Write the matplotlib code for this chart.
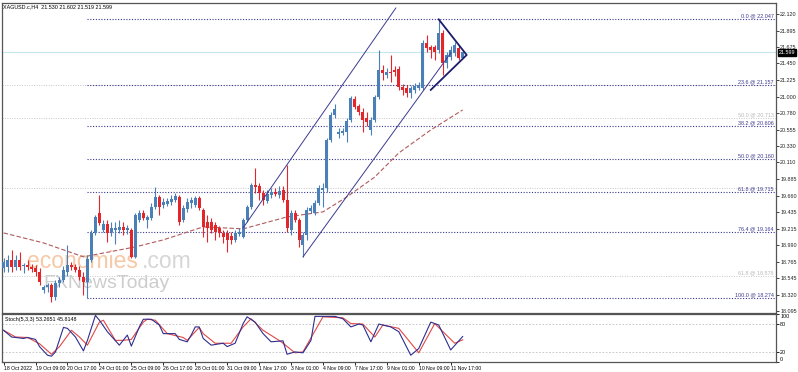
import numpy as np
import matplotlib.pyplot as plt

plt.rcParams['font.family'] = ['Liberation Sans', 'DejaVu Sans']

# XAGUSD.c H4 candles, bar 0 = 18 Oct 2022 01:00
opens = [18.683, 18.696, 18.791, 18.696, 18.791, 18.710, 18.723, 18.696, 18.683, 18.629,
         18.385, 18.426, 18.453, 18.290, 18.480, 18.520, 18.629, 18.723, 18.696, 18.656,
         18.561, 18.493, 18.791, 19.156, 19.427, 19.197, 19.278, 19.170, 19.197, 19.197,
         19.238, 19.197, 19.197, 18.832, 19.332, 19.427, 19.332, 19.359, 19.508, 19.644,
         19.535, 19.549, 19.576, 19.603, 19.644, 19.332, 19.481, 19.562, 19.535, 19.630,
         19.468, 19.305, 19.305, 19.265, 19.224, 19.156, 19.156, 19.116, 19.062, 19.143,
         19.102, 19.332, 19.508, 19.806, 19.792, 19.698, 19.589, 19.671, 19.711, 19.671,
         19.738, 19.603, 19.197, 19.427, 19.332, 18.994, 19.129, 19.454, 19.427, 19.562,
         19.738, 19.765, 20.415, 20.753, 20.496, 20.510, 20.523, 20.686, 20.970, 20.875,
         20.794, 20.713, 20.550, 20.686, 20.997, 21.362, 21.295, 21.335, 21.362, 21.376,
         21.132, 21.119, 21.051, 21.092, 21.119, 21.119, 21.728, 21.673, 21.673, 21.633,
         21.863, 21.457, 21.538, 21.592, 21.660, 21.530]
highs = [18.818, 18.859, 18.926, 18.859, 18.899, 18.750, 18.791, 18.737, 18.723, 18.683,
         18.453, 18.480, 18.480, 18.520, 18.561, 18.710, 18.994, 18.764, 18.737, 18.710,
         18.629, 18.859, 19.197, 19.400, 19.671, 19.332, 19.332, 19.305, 19.305, 19.332,
         19.305, 19.265, 19.224, 19.427, 19.468, 19.468, 19.400, 19.562, 19.779, 19.671,
         19.630, 19.630, 19.671, 19.698, 19.671, 19.535, 19.630, 19.644, 19.657, 19.657,
         19.495, 19.400, 19.359, 19.305, 19.251, 19.197, 19.197, 19.170, 19.197, 19.224,
         19.359, 19.535, 19.833, 20.036, 19.833, 19.738, 19.738, 19.765, 19.765, 19.792,
         19.792, 20.077, 19.468, 19.468, 19.359, 19.170, 19.508, 19.535, 19.603, 19.806,
         19.833, 20.442, 20.794, 20.902, 20.577, 20.577, 20.713, 21.010, 21.010, 20.902,
         20.848, 20.794, 20.726, 21.024, 21.633, 21.430, 21.389, 21.565, 21.416, 21.416,
         21.173, 21.159, 21.146, 21.186, 21.200, 21.768, 21.836, 21.700, 21.700, 22.047,
         21.903, 21.606, 21.687, 21.741, 21.700, 21.602]
lows = [18.629, 18.629, 18.629, 18.656, 18.656, 18.615, 18.656, 18.629, 18.575, 18.453,
        18.345, 18.358, 18.223, 18.250, 18.426, 18.493, 18.575, 18.656, 18.629, 18.520,
        18.317, 18.274, 18.764, 19.129, 19.265, 19.170, 19.035, 19.116, 19.008, 19.156,
        19.129, 19.143, 18.818, 18.818, 19.305, 19.332, 19.224, 19.332, 19.481, 19.400,
        19.495, 19.522, 19.535, 19.576, 19.265, 19.305, 19.441, 19.495, 19.508, 19.468,
        19.102, 19.035, 19.156, 19.062, 19.102, 19.021, 18.899, 19.008, 19.035, 19.116,
        19.089, 19.305, 19.481, 19.698, 19.603, 19.535, 19.562, 19.630, 19.657, 19.630,
        19.576, 19.170, 19.129, 19.305, 18.967, 18.832, 19.062, 19.427, 19.400, 19.535,
        19.508, 19.711, 20.388, 20.713, 20.442, 20.483, 20.388, 20.659, 20.834, 20.753,
        20.523, 20.604, 20.483, 20.659, 20.970, 21.227, 21.254, 21.200, 21.281, 21.092,
        21.024, 20.997, 20.983, 21.051, 21.092, 21.092, 21.606, 21.525, 21.498, 21.592,
        21.295, 21.389, 21.498, 21.552, 21.498, 21.519]
closes = [18.764, 18.791, 18.696, 18.791, 18.696, 18.723, 18.696, 18.669, 18.629, 18.493,
          18.426, 18.453, 18.290, 18.480, 18.520, 18.656, 18.723, 18.696, 18.656, 18.561,
          18.493, 18.805, 19.156, 19.373, 19.292, 19.278, 19.156, 19.224, 19.224, 19.238,
          19.197, 19.224, 18.832, 19.400, 19.427, 19.359, 19.373, 19.508, 19.644, 19.508,
          19.576, 19.589, 19.617, 19.657, 19.305, 19.495, 19.576, 19.603, 19.630, 19.495,
          19.238, 19.224, 19.197, 19.170, 19.156, 19.102, 19.062, 19.062, 19.156, 19.170,
          19.332, 19.508, 19.806, 19.779, 19.698, 19.603, 19.684, 19.711, 19.684, 19.725,
          19.603, 19.224, 19.427, 19.332, 19.062, 19.129, 19.468, 19.495, 19.562, 19.765,
          19.765, 20.415, 20.753, 20.834, 20.523, 20.537, 20.672, 20.983, 20.861, 20.794,
          20.686, 20.659, 20.686, 20.997, 21.362, 21.322, 21.335, 21.322, 21.335, 21.132,
          21.092, 21.051, 21.119, 21.146, 21.159, 21.728, 21.660, 21.633, 21.606, 21.863,
          21.457, 21.565, 21.633, 21.700, 21.525, 21.599]

# dashed moving average, read at a few bars
ma_bars = [0, 10, 20, 33, 40, 50, 60, 71, 80, 86, 93, 99, 107, 115]
ma_vals = [19.156, 19.021, 18.832, 18.967, 19.062, 19.238, 19.211, 19.373, 19.441,
           19.644, 19.914, 20.239, 20.550, 20.821]

# fibonacci retracement (low bar 21 -> high bar 109)
fib_levels = [22.047, 21.157, 20.606, 20.160, 19.715, 19.164, 18.274]
fib_labels = ['0.0 @ 22.047', '23.6 @ 21.157', '38.2 @ 20.606', '50.0 @ 20.160',
              '61.8 @ 19.715', '76.4 @ 19.164', '100.0 @ 18.274']
fib_start = 21
# older grey fibonacci lines
old_fib_levels = [21.157, 20.713, 19.765, 18.578]
old_fib_labels = ['', '50.0 @ 20.713', '', '61.8 @ 18.578']

# channel and triangle drawn on the chart (bar, price)
chan_upper = ([60, 98.25], [19.224, 22.201])
chan_lower = ([75, 112], [18.832, 21.592])
tri_bars = [109, 116, 107]
tri_vals = [22.047, 21.565, 21.092]

last_price = 21.599
price_ticks = [22.120, 21.895, 21.675, 21.450, 21.225, 21.000, 20.780, 20.555, 20.330,
               20.110, 19.885, 19.660, 19.435, 19.215, 18.990, 18.765, 18.545, 18.320, 18.095]

# stochastic (5,3,3)
st_main_bars = [0, 2, 5, 6, 8, 9, 11, 12, 13, 15, 16, 18, 20, 21, 23, 24, 26, 29, 31, 32,
                34, 35, 37, 39, 40, 43, 44, 46, 47, 48, 49, 50, 52, 55, 56, 58, 60, 61, 63, 65,
                67, 70, 71, 73, 75, 77, 78, 83, 85, 87, 89, 90, 92, 94, 97, 99, 102, 104, 107,
                109, 112, 115]
st_main = [66, 52, 49, 51, 47, 32, 14, 12, 21, 72, 70, 52, 23, 45, 97, 87, 63, 35, 56, 33,
           73, 89, 89, 77, 59, 59, 47, 42, 56, 73, 73, 49, 35, 39, 32, 39, 80, 94, 83, 59,
           42, 44, 16, 21, 19, 45, 95, 95, 90, 73, 79, 77, 42, 79, 73, 63, 14, 28, 83,
           77, 25, 53]
st_sig_bars = [0, 3, 6, 9, 12, 14, 17, 19, 21, 24, 25, 28, 30, 32, 35, 36, 38, 41, 45, 46,
               49, 50, 53, 57, 60, 62, 65, 69, 70, 73, 75, 80, 85, 87, 90, 93, 95, 99, 104,
               108, 113, 115]
st_sig = [66, 52, 51, 38, 16, 32, 66, 52, 35, 83, 87, 45, 45, 47, 83, 89, 87, 59, 51, 45,
          72, 59, 39, 39, 73, 90, 66, 45, 39, 19, 21, 94, 92, 80, 79, 52, 77, 70, 19,
          80, 39, 46]

date_bars = list(range(0, 113, 8))
date_labels = ['18 Oct 2022', '19 Oct 09:00', '20 Oct 17:00', '24 Oct 01:00', '25 Oct 09:00',
               '26 Oct 17:00', '28 Oct 01:00', '31 Oct 09:00', '1 Nov 17:00', '3 Nov 01:00',
               '4 Nov 09:00', '7 Nov 17:00', '9 Nov 01:00', '10 Nov 09:00', '11 Nov 17:00']

bull = '#4a7fb8'
bear = '#e2262c'
navy = '#3a3a90'
frame = '#555555'
fs = 3.9

fig = plt.figure(figsize=(7.98, 3.72), dpi=100)
ax = fig.add_axes([0.002, 0.159, 0.9705, 0.833])
ax2 = fig.add_axes([0.002, 0.027, 0.9705, 0.129], sharex=ax)

o = np.array(opens)
h = np.array(highs)
l = np.array(lows)
c = np.array(closes)
idx = np.arange(len(o))
up = c >= o
cols = np.where(up, bull, bear)

# background levels
for lv, lb in zip(old_fib_levels, old_fib_labels):
    ax.axhline(lv, color='#c8c8c8', lw=0.7, ls=(0, (1, 1.5)), zorder=1)
    if lb:
        ax.text(0.997, lv + 0.01, lb, transform=ax.get_yaxis_transform(), ha='right',
                va='bottom', fontsize=fs, color='#b8b8b8')
ax.axhline(last_price, color='#c4e6ec', lw=0.8, zorder=1)
for lv, lb in zip(fib_levels, fib_labels):
    ax.hlines(lv, fib_start, 193.5, color=navy, lw=0.8, ls=(0, (1, 1.5)), zorder=2)
    ax.text(0.997, lv + 0.01, lb, transform=ax.get_yaxis_transform(), ha='right',
            va='bottom', fontsize=fs, color=navy)

# watermark
ax.text(0.033, 0.165, 'economies', transform=ax.transAxes, fontsize=16.5, color='#f6c8a6',
        va='center', ha='left', zorder=1)
ax.text(0.181, 0.165, '.com', transform=ax.transAxes, fontsize=16.5, color='#d6d6d6',
        va='center', ha='left', zorder=1)
ax.text(0.054, 0.095, 'FXNewsToday', transform=ax.transAxes, fontsize=14, color='#cdcdcd',
        va='center', ha='left', zorder=1)

# moving average
ax.plot(ma_bars, ma_vals, color='#b05a5a', lw=0.8, ls=(0, (4, 2)), zorder=3)

# candles
ax.vlines(idx, l, h, color=cols, lw=0.8, zorder=4)
body = np.maximum(np.abs(c - o), 0.006)
ax.bar(idx, body, bottom=np.minimum(o, c), width=0.75, color=cols, lw=0, zorder=5)

# channel and triangle
ax.plot(chan_upper[0], chan_upper[1], color=navy, lw=0.7, zorder=6)
ax.plot(chan_lower[0], chan_lower[1], color=navy, lw=0.7, zorder=6)
ax.plot(tri_bars, tri_vals, color='#1c1c6c', lw=1.3, zorder=6)

ax.set_xlim(-0.5, 193.5)
ax.set_ylim(18.074, 22.269)
ax.yaxis.tick_right()
ax.set_yticks(price_ticks)
ax.set_yticklabels(['%.3f' % p for p in price_ticks])
ax.tick_params(axis='y', labelsize=fs, length=2, width=0.6, pad=1, colors='#222222')
ax.tick_params(axis='x', bottom=False, labelbottom=False)
ax.text(1.003, last_price, '%.3f' % last_price, transform=ax.get_yaxis_transform(),
        fontsize=fs, color='white', va='center', ha='left', zorder=10,
        bbox=dict(boxstyle='square,pad=0.15', fc='black', ec='black'))
fig.text(0.004, 0.988, 'XAGUSD.c,H4  21.530 21.602 21.519 21.599', fontsize=fs,
         va='top', ha='left')

# stochastic panel
for lv in [80, 20]:
    ax2.axhline(lv, color='#c0c0c0', lw=0.6, ls=(0, (2, 2)))
ax2.plot(st_sig_bars, st_sig, color='#e04848', lw=0.8)
ax2.plot(st_main_bars, st_main, color='#2e2e8e', lw=0.8)
ax2.set_ylim(0, 100)
ax2.yaxis.tick_right()
ax2.set_yticks([100, 80, 20, 0])
ax2.set_yticklabels(['100', '80', '20', '0'])
ax2.tick_params(axis='y', labelsize=fs, length=2, width=0.6, pad=1)
yl = ax2.get_yticklabels()
yl[0].set_va('top')
yl[3].set_va('bottom')
ax2.text(0.004, 0.93, 'Stoch(5,3,3) 53.2651 45.8148', transform=ax2.transAxes,
         fontsize=fs, va='top', ha='left')
ax2.set_xticks(date_bars)
ax2.set_xticklabels(date_labels)
ax2.tick_params(axis='x', labelsize=3.7, length=2, width=0.6, pad=1)
for lbl in ax2.get_xticklabels():
    lbl.set_ha('left')

for a in (ax, ax2):
    for s in a.spines.values():
        s.set_color(frame)
        s.set_linewidth(0.9)

fig.savefig('out.png', dpi=100)
